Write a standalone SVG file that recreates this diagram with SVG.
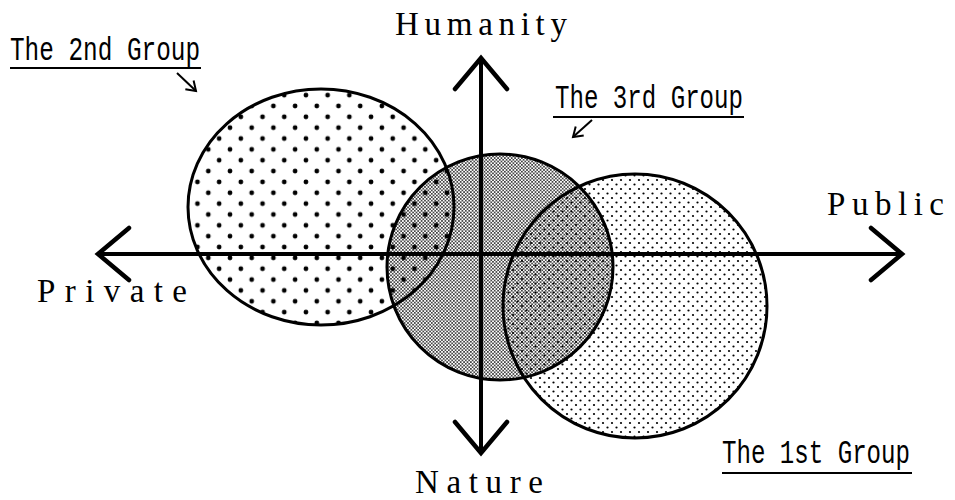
<svg xmlns="http://www.w3.org/2000/svg" width="955" height="500" viewBox="0 0 955 500">
<style>
.ring{fill:none;stroke:#000;stroke-width:3}
.axis{fill:none;stroke:#000;stroke-width:4;marker-start:url(#bigHead);marker-end:url(#bigHead)}
.ptr{fill:none;stroke:#000;stroke-width:2;marker-end:url(#smallHead)}
.ax{font-family:"Liberation Serif","DejaVu Serif",serif;font-size:33px;fill:#000}
.grp{font-family:"Liberation Mono","DejaVu Sans Mono",monospace;font-size:33px;fill:#000}
.ul{stroke:#000;stroke-width:2}
</style>
<defs>
<marker id="bigHead" markerUnits="userSpaceOnUse" orient="auto-start-reverse" markerWidth="40" markerHeight="60" refX="0" refY="0" overflow="visible">
<path d="M-31,-26 L0,0 L-31,26" fill="none" stroke="#000" stroke-width="4.5" stroke-linecap="round" stroke-linejoin="miter"/>
</marker>
<marker id="smallHead" markerUnits="userSpaceOnUse" orient="auto" markerWidth="14" markerHeight="14" refX="0" refY="0" overflow="visible">
<path d="M-9,-6 L0,0 L-9,6" fill="none" stroke="#000" stroke-width="2"/>
</marker>
<pattern id="bigDots" patternUnits="userSpaceOnUse" x="230" y="106" width="21.7" height="21.7">
<circle cx="0" cy="0" r="2.4"/><circle cx="21.7" cy="0" r="2.4"/><circle cx="0" cy="21.7" r="2.4"/><circle cx="21.7" cy="21.7" r="2.4"/><circle cx="10.85" cy="10.85" r="2.4"/>
</pattern>
<pattern id="fineDots" patternUnits="userSpaceOnUse" width="9" height="9">
<circle cx="0" cy="0" r="1.1"/><circle cx="9" cy="0" r="1.1"/><circle cx="0" cy="9" r="1.1"/><circle cx="9" cy="9" r="1.1"/><circle cx="4.5" cy="4.5" r="1.1"/>
</pattern>
<pattern id="mesh" patternUnits="userSpaceOnUse" width="3.4" height="3.4">
<circle cx="0" cy="0" r="0.82"/><circle cx="3.4" cy="0" r="0.82"/><circle cx="0" cy="3.4" r="0.82"/><circle cx="3.4" cy="3.4" r="0.82"/><circle cx="1.7" cy="1.7" r="0.82"/>
</pattern>
</defs>
<rect x="0" y="0" width="955" height="500" fill="#fff"/>

<g id="group2">
<ellipse cx="321" cy="207" rx="133" ry="118" fill="url(#bigDots)"/>
</g>
<g id="group1">
<circle cx="635" cy="306" r="132" fill="url(#fineDots)"/>
</g>
<g id="group3">
<circle cx="500" cy="267" r="113" fill="url(#mesh)"/>
</g>
<g id="outlines">
<ellipse class="ring" cx="321" cy="207" rx="133" ry="118"/>
<circle class="ring" cx="635" cy="306" r="132"/>
<circle class="ring" cx="500" cy="267" r="113"/>
</g>

<g id="connectors">
<line class="axis" x1="98" y1="254" x2="902" y2="254"/>
<line class="axis" x1="481" y1="58" x2="481" y2="453"/>
<line class="ptr" x1="177" y1="73" x2="196" y2="91"/>
<line class="ptr" x1="592" y1="120" x2="573" y2="137"/>
</g>

<g id="label-humanity"><text class="ax" x="395" y="35" textLength="172" lengthAdjust="spacing">Humanity</text></g>
<g id="label-private"><text class="ax" x="37" y="302" textLength="150" lengthAdjust="spacing">Private</text></g>
<g id="label-public"><text class="ax" x="827" y="215" textLength="117" lengthAdjust="spacing">Public</text></g>
<g id="label-nature"><text class="ax" x="415" y="493" textLength="128" lengthAdjust="spacing">Nature</text></g>

<g id="label-2nd">
<text class="grp" x="10" y="60" textLength="190" lengthAdjust="spacingAndGlyphs">The 2nd Group</text>
<line class="ul" x1="10" y1="68" x2="201" y2="68"/>
</g>
<g id="label-3rd">
<text class="grp" x="555" y="108" textLength="188" lengthAdjust="spacingAndGlyphs">The 3rd Group</text>
<line class="ul" x1="553" y1="117" x2="744" y2="117"/>
</g>
<g id="label-1st">
<text class="grp" x="722" y="463" textLength="188" lengthAdjust="spacingAndGlyphs">The 1st Group</text>
<line class="ul" x1="722" y1="473" x2="912" y2="473"/>
</g>
</svg>
